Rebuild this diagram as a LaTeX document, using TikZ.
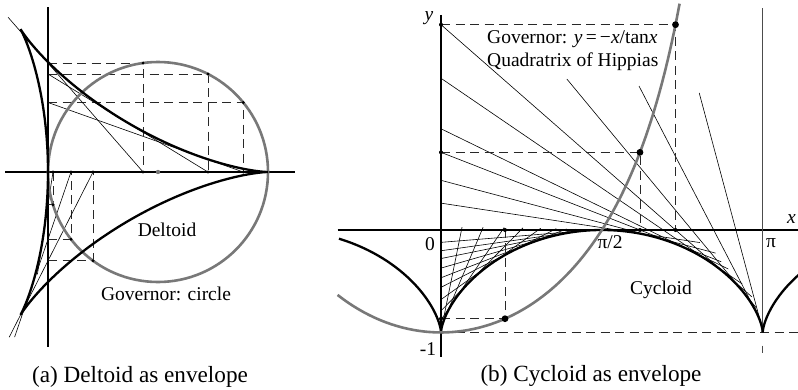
\documentclass[tikz,border=0pt]{standalone}
\usepackage{fontspec}
\setmainfont{Liberation Serif}
\usetikzlibrary{calc}
\definecolor{govgray}{RGB}{120,120,120}
\definecolor{dashcol}{RGB}{40,40,40}
\begin{document}
\begin{tikzpicture}[x=1pt,y=-1pt,
  gov/.style={draw=govgray, line width=2.6pt},
  curve/.style={draw=black, line width=2.3pt},
  axis/.style={draw=black, line width=1.6pt},
  thinline/.style={draw=black, line width=0.6pt},
  piline/.style={draw=black!70, line width=0.8pt},
  dashline/.style={draw=dashcol, line width=0.7pt, dash pattern=on 9pt off 5.5pt},
  lbl/.style={font=\fontsize{19.5}{23}\selectfont, inner sep=0pt},
  captxt/.style={font=\fontsize{23.2}{27}\selectfont, inner sep=0pt},
]
\useasboundingbox (0,0) rectangle (798,389);

% ---------------- panel (a) ----------------
\draw[axis] (5,172) -- (295,172);
\draw[axis] (48,7) -- (48,347);
\begin{scope}[shift={(48pt,-172pt)}, x=55pt, y=55pt]
  \foreach \n/\p in {1/97.8, 2/63, 3/39.2, 4/-162.7, 5/-142.3, 6/-126.2} {
    \coordinate (GA\n) at ({2+2*cos(\p)},{2*sin(\p)});
    \coordinate (XA\n) at ({2+2*cos(\p)},0);
    \coordinate (YA\n) at (0,{2*sin(\p)});
    \coordinate (TA\n) at ({1+2*cos(\p)+cos(2*\p)},{2*sin(\p)-sin(2*\p)});
    \draw[dashline] (YA\n) -- (GA\n) -- (XA\n);
  }
  \draw[thinline] (XA1) -- ($(XA1)!1.25!(TA1)$);
  \draw[thinline] (YA2) -- (XA2);
  \draw[thinline] (YA3) -- (XA3);
  \draw[thinline] (XA4) -- ($(XA4)!1.6!(TA4)$);
  \draw[thinline] (XA5) -- ($(XA5)!1.37!(TA5)$);
  \draw[thinline] (XA6) -- ($(XA6)!1.17!(TA6)$);
  \coordinate (CA) at (2,0);
  \draw[gov] (CA) circle[radius=110pt];
  \fill[govgray] (CA) circle[radius=2.2pt];
  \draw[curve] plot[domain=0:360, samples=361, variable=\t]
    ({1+2*cos(\t)+cos(2*\t)}, {2*sin(\t)-sin(2*\t)}) -- cycle;
  \foreach \n in {1,...,6} {
    \fill (GA\n) circle[radius=1.6pt];
    \fill (XA\n) circle[radius=1.6pt];
  }
\end{scope}
\node[lbl, anchor=base] (deltoidlbl) at (167,236) {Deltoid};
\node[lbl, anchor=base] (govalbl) at (166,300) {Governor: circle};
\node[captxt, anchor=base] (capa) at (140,382) {(a) Deltoid as envelope};

% ---------------- panel (b) ----------------
\begin{scope}[shift={(441pt,-230pt)}, x=102.4pt, y=102.4pt]
  \draw[axis] (-1.01,0) -- (3.5,0);
  \draw[axis] (0,2.1) -- (0,-1.24);
  \coordinate (PT) at (pi,2.165);
  \coordinate (PB) at (pi,-1);
  \draw[piline] (PT) -- (PB);
  \draw[piline] (pi,-1.13) -- (pi,-1.2);
  \draw[dashline] (0,-1) -- (3.5,-1);
  % tangent lines, upper family
  \foreach \n/\a/\e in {1/1.722/68pt, 2/1.83/64pt, 3/1.943/50pt, 4/2.025/44pt, 5/2.17/38pt, 6/2.29/34pt} {
    \coordinate (YB\n) at (0,{-\a/tan(\a r)});
    \coordinate (TB\n) at ({\a - sin(2*\a r)/2}, {-cos(\a r)*cos(\a r)});
    \draw[thinline] (YB\n) -- ($(TB\n)!-\e!(YB\n)$);
  }
  \foreach \n/\a/\ys/\e in {7/2.45/1.475/22pt, 8/2.663/1.406/12pt, 9/2.88/1.338/4pt} {
    \pgfmathsetmacro\yz{-\a/tan(\a r)}
    \coordinate (SB\n) at ({\a*(1-\ys/\yz)}, \ys);
    \coordinate (TB\n) at ({\a - sin(2*\a r)/2}, {-cos(\a r)*cos(\a r)});
    \draw[thinline] (SB\n) -- ($(TB\n)!-\e!(SB\n)$);
  }
  % lower family
  \foreach \n/\a in {1/0.2, 2/0.4, 3/0.6, 4/0.78, 5/0.95, 6/1.1, 7/1.2, 8/1.29, 9/1.37, 10/1.43, 11/1.49} {
    \coordinate (YL\n) at (0,{-\a/tan(\a r)});
    \coordinate (XL\n) at (\a,0);
    \draw[thinline] (YL\n) -- ($(XL\n)!-3pt!(YL\n)$);
  }
  % governor points with dashed projections
  \foreach \n/\a in {1/2.29, 2/1.943, 3/0.625} {
    \coordinate (GB\n) at (\a,{-\a/tan(\a r)});
    \coordinate (GX\n) at (\a,0);
    \coordinate (GY\n) at (0,{-\a/tan(\a r)});
    \draw[dashline] (GY\n) -- (GB\n) -- (GX\n);
  }
  % cycloid
  \draw[curve] plot[domain=-2.55:0, samples=60, variable=\t]
    ({(\t - sin(\t r))/2}, {-(1+cos(\t r))/2});
  \draw[curve] plot[domain=0:6.28319, samples=161, variable=\t]
    ({(\t - sin(\t r))/2}, {-(1+cos(\t r))/2});
  \draw[curve] plot[domain=6.28319:7.98, samples=50, variable=\t]
    ({(\t - sin(\t r))/2}, {-(1+cos(\t r))/2});
  % governor curve
  \draw[gov] plot[domain=-1.01:2.33, samples=121, variable=\x]
    (\x, {-\x/tan(\x r)});
  \foreach \n in {1,2,3} {
    \fill (GB\n) circle[radius=3.4pt];
    \fill (GX\n) circle[radius=2pt];
    \fill (GY\n) circle[radius=2pt];
  }
\end{scope}
\node[lbl, anchor=base] (ylbl) at (429,20) {\textit{y}};
\node[lbl, anchor=base west] (xlbl) at (787,223) {\textit{x}};
\node[lbl, anchor=base] (zerolbl) at (430,250) {0};
\node[lbl, anchor=base] (minuslbl) at (428,355) {-1};
\node[lbl, anchor=base] (pihalf) at (610,248) {π/2};
\node[lbl, anchor=base] (pilbl) at (771,247) {π};
\node[lbl, anchor=base west] (govb1) at (487,43) {Governor: \textit{y}\,=\,−\textit{x}/tan\textit{x}};
\node[lbl, anchor=base west] (govb2) at (487,66) {Quadratrix of Hippias};
\node[lbl, anchor=base] (cyclbl) at (661,294) {Cycloid};
\node[captxt, anchor=base] (capb) at (591,381) {(b) Cycloid as envelope};
\end{tikzpicture}
\end{document}
